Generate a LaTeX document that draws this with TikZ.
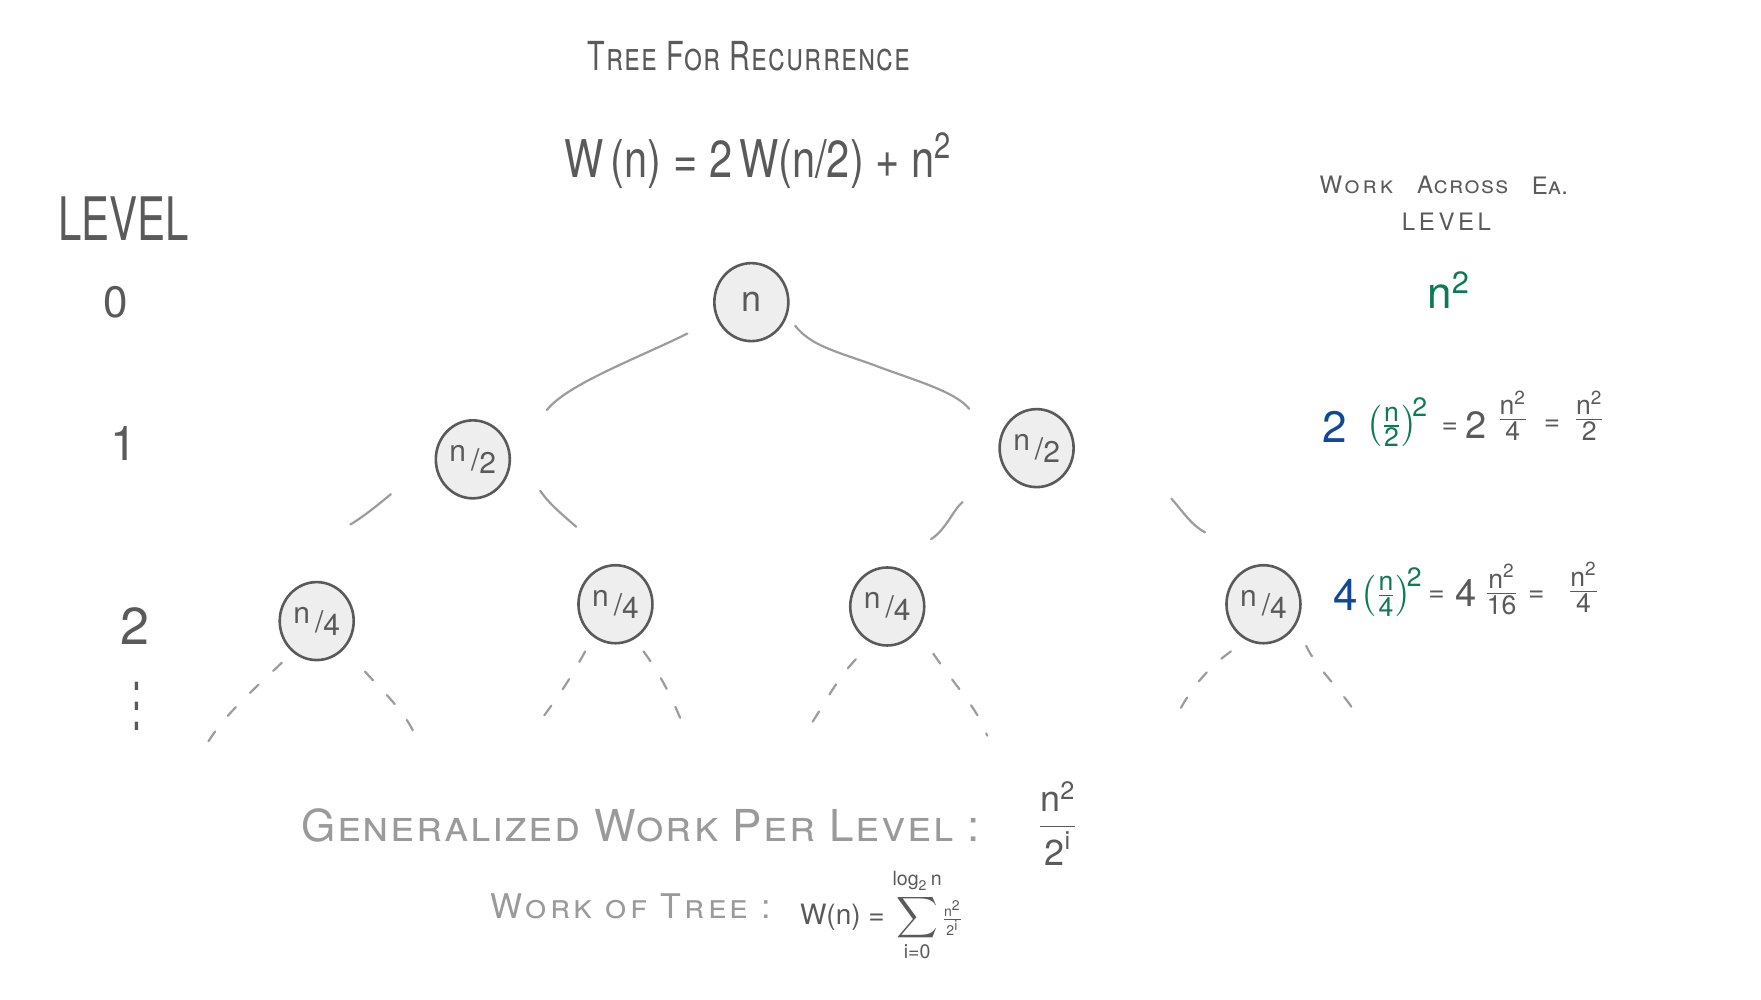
\documentclass[tikz,border=0pt]{standalone}
\usepackage{fontspec}
\usepackage{amsmath}
\setmainfont{TeX Gyre Heros}
\usetikzlibrary{shapes.geometric}
\definecolor{ink}{HTML}{5A5A5A}
\definecolor{pale}{HTML}{9A9A9A}
\definecolor{edgec}{HTML}{9C9C9C}
\definecolor{nfill}{HTML}{EEEEEE}
\definecolor{hblue}{HTML}{11479B}
\definecolor{hgreen}{HTML}{0B7A56}
\newcommand\fsz[1]{\fontsize{#1}{#1}\selectfont}
\newcommand\slfr[2]{\raisebox{0.3em}{#1}\,/\raisebox{-0.1em}{#2}}
\tikzset{
  tnode/.style={ellipse, draw=ink, fill=nfill, line width=1.3pt, minimum width=37pt,
    minimum height=39pt, inner sep=0pt, text=ink, font=\fsz{15}},
  treeedge/.style={draw=edgec, line width=1.1pt, line cap=round},
  futedge/.style={treeedge, dash pattern=on 6pt off 10pt},
  lbl/.style={text=ink, inner sep=0pt},
  plbl/.style={text=pale, inner sep=0pt},
  eqn/.style={lbl, font=\fsz{19}},
  eqsign/.style={lbl, font=\fsz{14}},
  hdr/.style={lbl, font=\fsz{12}},
}
\begin{document}
\begin{tikzpicture}[x=0.5616pt, y=-0.5616pt]
\useasboundingbox (0,0) rectangle (1568,890);

% titles
\node[lbl, font=\fsz{20}] (title) at (667,50) {\scalebox{0.72}[1]{\addfontfeature{LetterSpace=4}\textsc{Tree For Recurrence}}};
\node[lbl, font=\fsz{26}] (rec) at (675,143) {\scalebox{0.8}[1]{W\,(n) = 2\,W(n/2) + n\textsuperscript{2}}};

% level column
\node[lbl, font=\fsz{30}] (lev) at (110,195) {\scalebox{0.7}[1]{LEVEL}};
\node[lbl, font=\fsz{22}] (l0) at (103,269) {0};
\node[lbl, font=\fsz{24}] (l1) at (110,395) {1};
\node[lbl, font=\fsz{26}] (l2) at (120,557) {2};
\node[lbl, font=\fsz{16}] (ldots) at (122,616) {\scalebox{1}[2.5]{$\vdots$}};

% tree nodes
\node[tnode, font=\fsz{18}] (r) at (669,269) {n};
\node[tnode] (a) at (421,409) {\slfr{n}{2}};
\node[tnode] (b) at (923,399) {\slfr{n}{2}};
\node[tnode] (aa) at (282,553) {\slfr{n}{4}};
\node[tnode] (ab) at (548,538) {\slfr{n}{4}};
\node[tnode] (ba) at (790,540) {\slfr{n}{4}};
\node[tnode] (bb) at (1125,538) {\slfr{n}{4}};

% solid connectors
\coordinate (ra1) at (612,297); \coordinate (ra2) at (487,365);
\coordinate (rb1) at (708,290); \coordinate (rb2) at (863,364);
\coordinate (aaa1) at (348,440); \coordinate (aaa2) at (312,467);
\coordinate (aab1) at (481,437); \coordinate (aab2) at (513,469);
\coordinate (bba1) at (857,447); \coordinate (bba2) at (829,480);
\coordinate (bbb1) at (1043,444); \coordinate (bbb2) at (1073,474);
\draw[treeedge] (ra1) .. controls (570,318) and (505,342) .. (ra2);
\draw[treeedge] (rb1) .. controls (722,308) and (745,313) .. (778,325) .. controls (812,338) and (850,348) .. (rb2);
\draw[treeedge] (aaa1) .. controls (335,451) and (322,461) .. (aaa2);
\draw[treeedge] (aab1) .. controls (490,450) and (503,460) .. (aab2);
\draw[treeedge] (bba1) .. controls (848,455) and (842,472) .. (bba2);
\draw[treeedge] (bbb1) .. controls (1053,455) and (1060,467) .. (bbb2);

% dashed continuations
\coordinate (aal1) at (251,590); \coordinate (aal2) at (180,670);
\coordinate (aar1) at (325,598); \coordinate (aar2) at (371,658);
\coordinate (abl1) at (521,580); \coordinate (abl2) at (474,651);
\coordinate (abr1) at (573,580); \coordinate (abr2) at (608,645);
\coordinate (bal1) at (762,587); \coordinate (bal2) at (722,645);
\coordinate (bar1) at (831,582); \coordinate (bar2) at (879,655);
\coordinate (bbl1) at (1096,580); \coordinate (bbl2) at (1045,643);
\coordinate (bbr1) at (1163,575); \coordinate (bbr2) at (1207,635);
\draw[futedge] (aal1) .. controls (225,615) and (195,640) .. (aal2);
\draw[futedge] (aar1) .. controls (345,620) and (362,635) .. (aar2);
\draw[futedge] (abl1) .. controls (505,610) and (490,630) .. (abl2);
\draw[futedge] (abr1) .. controls (588,600) and (600,625) .. (abr2);
\draw[futedge] (bal1) .. controls (745,605) and (735,625) .. (bal2);
\draw[futedge] (bar1) .. controls (850,610) and (870,630) .. (bar2);
\draw[futedge] (bbl1) .. controls (1075,595) and (1058,615) .. (bbl2);
\draw[futedge] (bbr1) .. controls (1172,595) and (1195,615) .. (bbr2);

% work per level column
\node[hdr] (wa1) at (1209,165) {\addfontfeature{LetterSpace=12}\textsc{Work}};
\node[hdr] (wa2) at (1303,165) {\addfontfeature{LetterSpace=6}\textsc{Across}};
\node[hdr] (wa3) at (1380,165) {\textsc{Ea.}};
\node[hdr] (wl) at (1288,197) {\addfontfeature{LetterSpace=15}LEVEL};
\node[lbl, text=hgreen, font=\fsz{22}] (w0) at (1290,258) {n\textsuperscript{2}};

\node[eqn, text=hblue, font=\fsz{22}] (w1a) at (1188,380) {2};
\node[eqn, text=hgreen] (w1b) at (1244,376) {$\left(\frac{\text{n}}{\text{2}}\right)^{\!\text{2}}$};
\node[eqsign] (w1c) at (1291,381) {=};
\node[eqn] (w1d) at (1314,378) {2};
\node[eqn] (w1e) at (1347,370) {$\frac{\text{n}^{\text{2}}}{\text{4}}$};
\node[eqsign] (w1f) at (1382,379) {=};
\node[eqn] (w1g) at (1415,370) {$\frac{\text{n}^{\text{2}}}{\text{2}}$};

\node[eqn, text=hblue, font=\fsz{22}] (w2a) at (1198,530) {4};
\node[eqn, text=hgreen] (w2b) at (1239,527) {$\left(\frac{\text{n}}{\text{4}}\right)^{\!\text{2}}$};
\node[eqsign] (w2c) at (1279,531) {=};
\node[eqn] (w2d) at (1305,528) {4};
\node[eqn] (w2e) at (1337,525) {$\frac{\text{n}^{\text{2}}}{\text{16}}$};
\node[eqsign] (w2f) at (1368,531) {=};
\node[eqn] (w2g) at (1410,523) {$\frac{\text{n}^{\text{2}}}{\text{4}}$};

% bottom
\node[plbl, font=\fsz{22}] (gen) at (571,735) {\addfontfeature{LetterSpace=4}\textsc{Generalized Work Per Level :}};
\node[lbl, font=\fsz{18}] (genf) at (942,733) {$\dfrac{\text{n}^{\text{2}}}{\text{2}^{\text{i}}}$};
\node[plbl, font=\fsz{17}] (wt) at (563,807) {\addfontfeature{LetterSpace=10}\textsc{Work of Tree :}};
\node[lbl, font=\fsz{14}, anchor=west] (wsum) at (712,815) {W(n) = $\displaystyle\sum_{\text{i=0}}^{\log_{\text{2}}\text{n}}\!{\scriptstyle\frac{\text{n}^{\text{2}}}{\text{2}^{\text{i}}}}$};
\end{tikzpicture}
\end{document}
